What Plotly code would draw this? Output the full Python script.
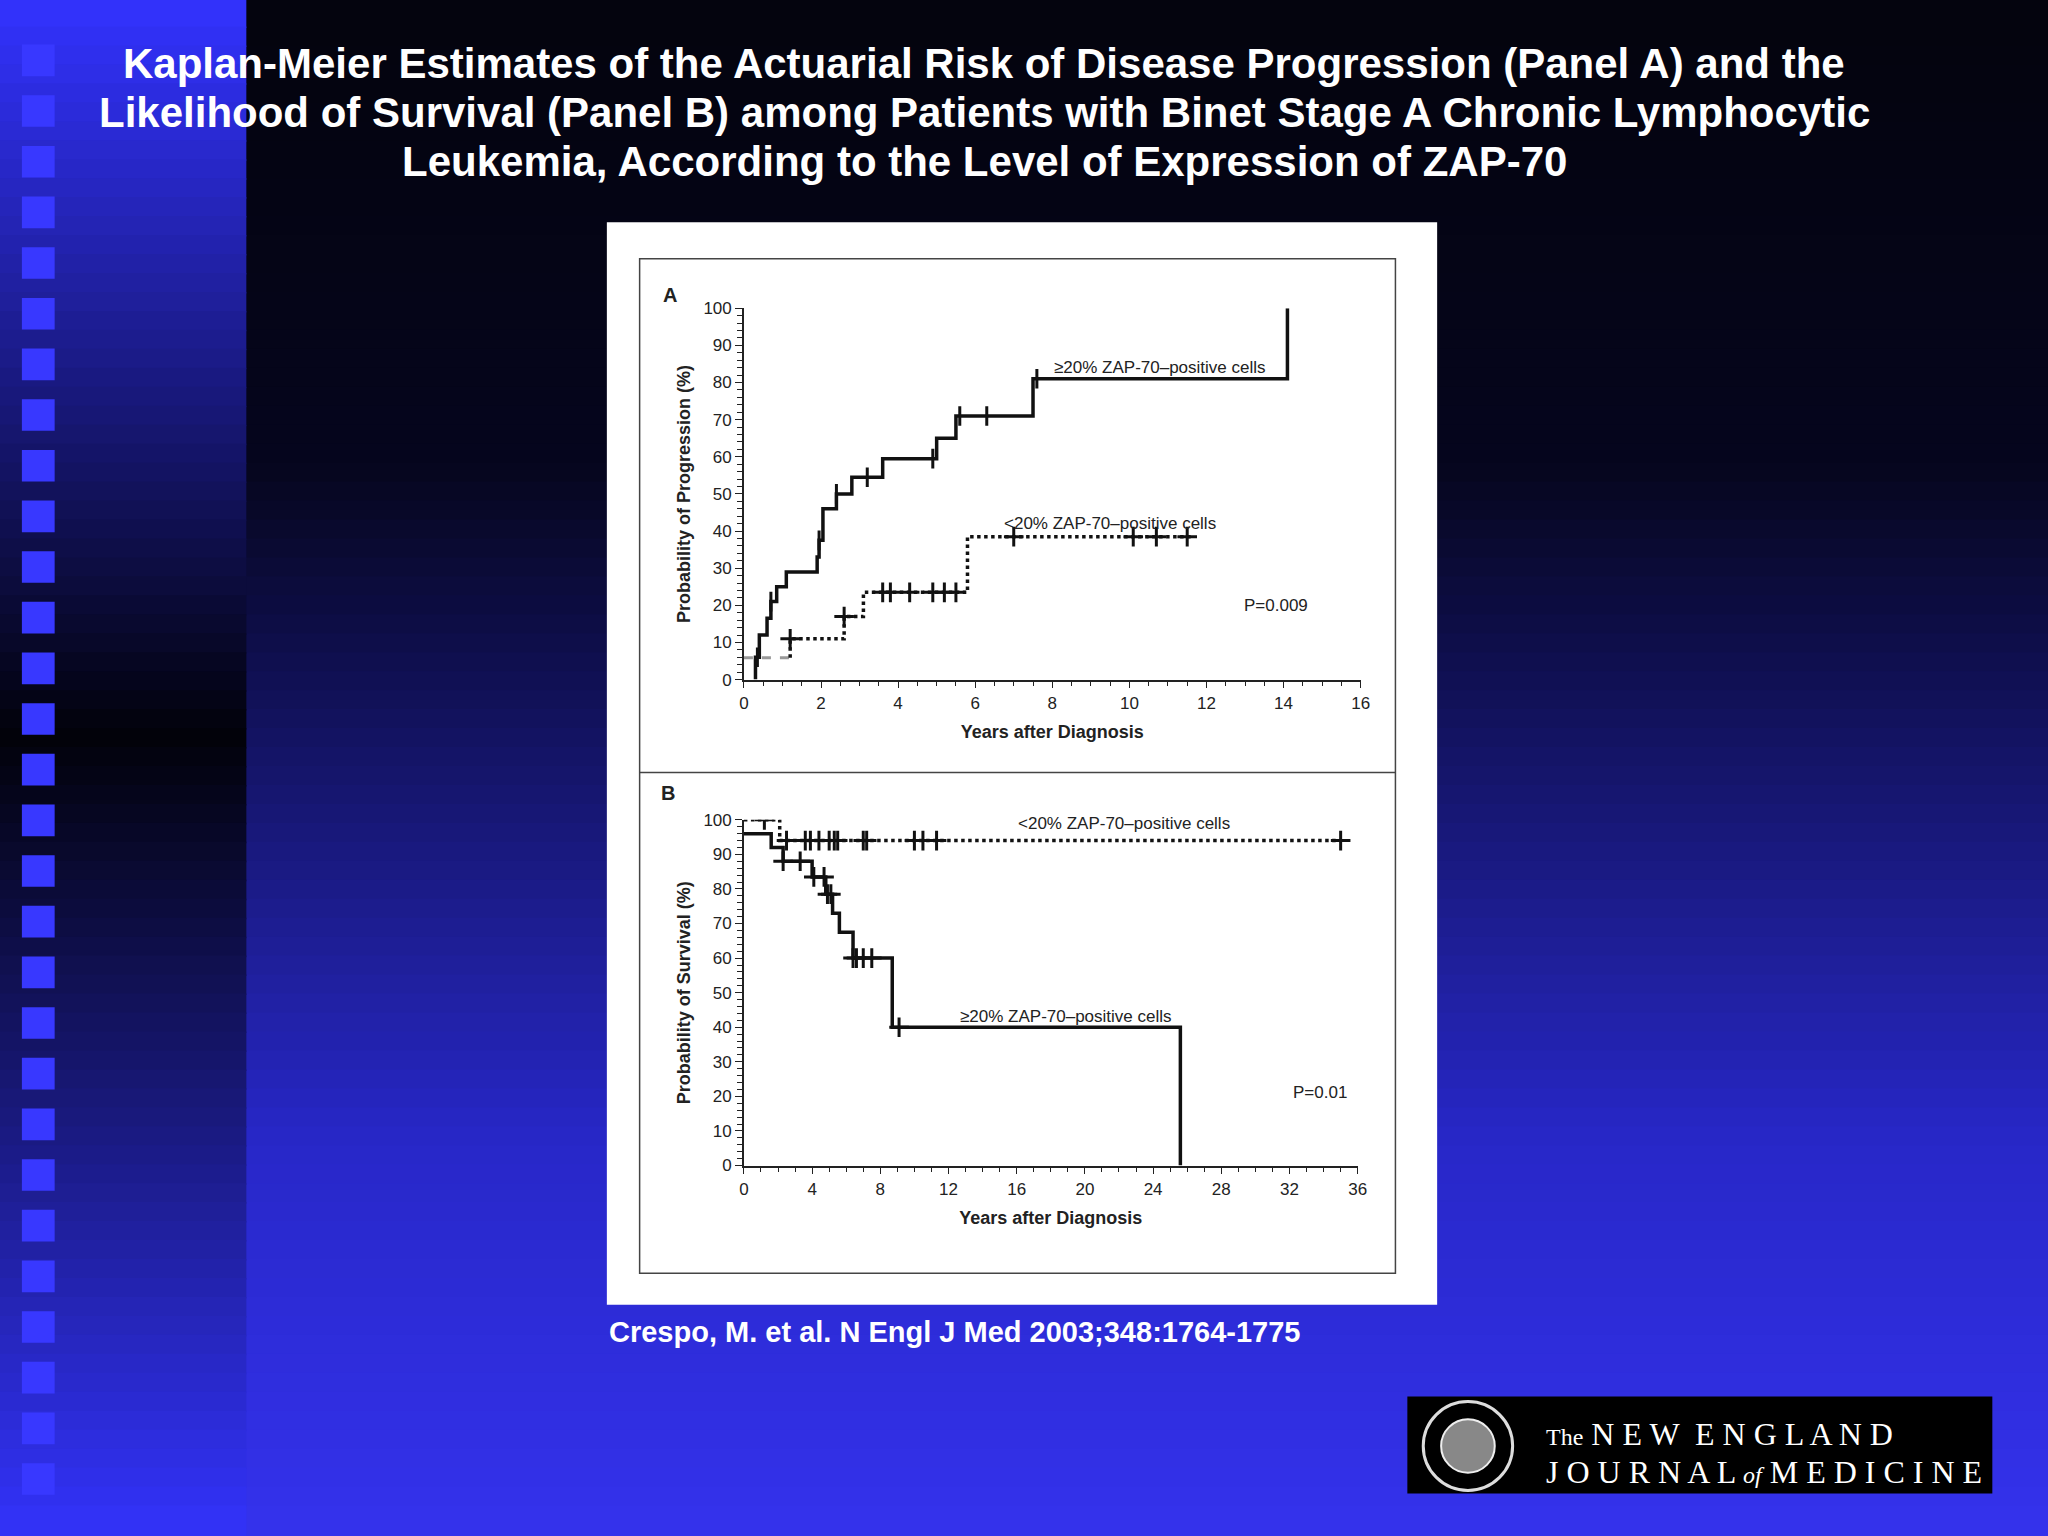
import plotly.graph_objects as go

W, H = 2048, 1536
# ---- data ----
a_hi_x = [0.3, 0.3, 0.4, 0.6, 0.7, 0.85, 1.1, 1.9, 1.95, 2.05, 2.4, 2.8, 3.6, 5.0, 5.5, 7.5, 14.1, 14.1]
a_hi_y = [0, 6, 12, 16.5, 21, 25, 29, 33, 37.5, 46, 50, 54.5, 59.5, 65, 71, 81, 81, 100]
a_hi_cx = [0.35, 0.7, 1.95, 2.4, 3.2, 4.9, 5.6, 6.3, 7.6]
a_lo_x = [1.2, 2.6, 3.1, 5.8, 11.6]
a_lo_y = [11, 17, 23.5, 38.5, 38.5]
a_lo_start = [5.9, 5.9]
a_lo_cx = [1.2, 2.6, 3.6, 3.8, 4.3, 4.9, 5.2, 5.5, 7.0, 10.1, 10.7, 11.5]
b_hi_x = [0, 1.6, 2.3, 4.0, 4.8, 5.2, 5.6, 6.4, 8.7, 25.6, 25.6]
b_hi_y = [96, 92, 88, 83.5, 78.5, 73, 67.5, 60, 40, 40, 0]
b_hi_cx = [2.3, 3.3, 4.1, 4.7, 4.9, 5.1, 6.4, 6.6, 7.0, 7.5, 9.1]
b_lo_x = [0, 2.1, 35.0]
b_lo_y = [100, 94, 94]
b_lo_cx = [1.2, 2.5, 3.6, 3.9, 4.4, 5.0, 5.3, 5.5, 7.0, 7.2, 10.0, 10.5, 11.3, 35.0]
a_xticks = list(range(0, 17, 2))
b_xticks = list(range(0, 37, 4))
yticks = list(range(0, 101, 10))
title_lines = [
    "Kaplan-Meier Estimates of the Actuarial Risk of Disease Progression (Panel A) and the",
    "Likelihood of Survival (Panel B) among Patients with Binet Stage A Chronic Lymphocytic",
    "Leukemia, According to the Level of Expression of ZAP-70",
]


def step_y(xs, ys, x):
    v = None
    for xi, yi in zip(xs, ys):
        if xi <= x:
            v = yi
    return v


def px(x):
    return x / W


def py(y):
    return 1 - y / H


fig = go.Figure()
shapes = []


def lerp(c1, c2, t):
    return "rgb(%d,%d,%d)" % tuple(int(c1[i] + (c2[i] - c1[i]) * t) for i in range(3))


N = 80
for i in range(N):
    t = i / (N - 1)
    if t < 0.3:
        c = lerp((4, 4, 14), (6, 6, 30), t / 0.3)
    elif t < 0.75:
        c = lerp((6, 6, 30), (40, 40, 200), (t - 0.3) / 0.45)
    else:
        c = lerp((40, 40, 200), (52, 50, 235), (t - 0.75) / 0.25)
    shapes.append(dict(type="rect", xref="paper", yref="paper", x0=-0.01, x1=1.01,
                       y0=1 - (i + 1) / N - 0.01 * (i == N - 1), y1=1 - i / N + 0.001 + 0.01 * (i == 0),
                       fillcolor=c, line_width=0, layer="below"))
for i in range(N):
    t = i / (N - 1)
    if t < 0.48:
        c = lerp((50, 50, 250), (2, 2, 10), t / 0.48)
    else:
        c = lerp((2, 2, 10), (50, 50, 245), (t - 0.48) / 0.52)
    shapes.append(dict(type="rect", xref="paper", yref="paper", x0=-0.01, x1=px(243),
                       y0=1 - (i + 1) / N - 0.01 * (i == N - 1), y1=1 - i / N + 0.001 + 0.01 * (i == 0),
                       fillcolor=c, line_width=0, layer="below"))
for k in range(29):
    y0 = 36 + k * 51.3
    shapes.append(dict(type="rect", xref="paper", yref="paper", x0=px(17), x1=px(50),
                       y0=py(y0 + 32), y1=py(y0), fillcolor="#3838ff", line_width=0, layer="below"))
shapes.append(dict(type="rect", xref="paper", yref="paper", x0=px(606), x1=px(1442), y0=py(1312), y1=py(216),
                   fillcolor="white", line_width=0, layer="below"))
shapes.append(dict(type="rect", xref="paper", yref="paper", x0=px(639), x1=px(1400), y0=py(1280), y1=py(253),
                   fillcolor="rgba(0,0,0,0)", line=dict(color="#444", width=1.5), layer="below"))
shapes.append(dict(type="line", xref="paper", yref="paper", x0=px(639), x1=px(1400), y0=py(773), y1=py(773),
                   line=dict(color="#444", width=1.5), layer="below"))
shapes.append(dict(type="rect", xref="paper", yref="paper", x0=px(1412), x1=px(2001), y0=py(1503), y1=py(1405),
                   fillcolor="black", line_width=0))
shapes.append(dict(type="circle", xref="paper", yref="paper", x0=px(1428), x1=px(1518), y0=py(1500), y1=py(1410),
                   fillcolor="black", line=dict(color="#ddd", width=3)))
shapes.append(dict(type="circle", xref="paper", yref="paper", x0=px(1446), x1=px(1500), y0=py(1482), y1=py(1428),
                   fillcolor="#888", line=dict(color="#eee", width=2)))

blk = "#111"
cross = dict(symbol="cross-thin-open", size=14, color=blk, line=dict(color=blk, width=3))
fig.add_trace(go.Scatter(x=[0, 1.2], y=a_lo_start, mode="lines",
                         line=dict(color="#999", dash="dash", width=3), xaxis="x", yaxis="y", showlegend=False))
fig.add_trace(go.Scatter(x=a_hi_x, y=a_hi_y, mode="lines", line=dict(color=blk, width=3.5, shape="hv"),
                         xaxis="x", yaxis="y", showlegend=False))
fig.add_trace(go.Scatter(x=[1.2] + a_lo_x, y=[5.9] + a_lo_y, mode="lines",
                         line=dict(color=blk, width=3.5, dash="dot", shape="hv"), xaxis="x", yaxis="y", showlegend=False))
fig.add_trace(go.Scatter(x=a_hi_cx, y=[step_y(a_hi_x, a_hi_y, x) for x in a_hi_cx], mode="markers",
                         marker=dict(symbol="line-ns-open", size=14, color=blk, line=dict(color=blk, width=3)),
                         xaxis="x", yaxis="y", showlegend=False))
fig.add_trace(go.Scatter(x=a_lo_cx, y=[step_y([1.2] + a_lo_x, [5.9] + a_lo_y, x) for x in a_lo_cx], mode="markers",
                         marker=cross, xaxis="x", yaxis="y", showlegend=False))
fig.add_trace(go.Scatter(x=b_lo_x, y=b_lo_y, mode="lines", line=dict(color=blk, width=3.5, dash="dot", shape="hv"),
                         xaxis="x2", yaxis="y2", showlegend=False))
fig.add_trace(go.Scatter(x=b_hi_x, y=b_hi_y, mode="lines", line=dict(color=blk, width=3.5, shape="hv"),
                         xaxis="x2", yaxis="y2", showlegend=False))
fig.add_trace(go.Scatter(x=b_hi_cx, y=[step_y(b_hi_x, b_hi_y, x) for x in b_hi_cx], mode="markers",
                         marker=cross, xaxis="x2", yaxis="y2", showlegend=False))
fig.add_trace(go.Scatter(x=b_lo_cx, y=[step_y(b_lo_x, b_lo_y, x) for x in b_lo_cx], mode="markers",
                         marker=cross, xaxis="x2", yaxis="y2", showlegend=False))

tf = dict(family="Liberation Sans", size=17, color="#222")
tt = dict(family="Liberation Sans", size=18, color="#222")
ax = dict(showgrid=False, zeroline=False, showline=True, linecolor="#222", linewidth=1.5, ticks="outside",
          ticklen=7, tickcolor="#222", tickfont=tf, title_font=tt)
fig.update_layout(
    width=W, height=H, margin=dict(l=0, r=0, t=0, b=0), paper_bgcolor="#050512", plot_bgcolor="rgba(0,0,0,0)",
    shapes=shapes,
    xaxis=dict(ax, domain=[px(744), px(1365)], range=[0, 16], tickvals=a_xticks, anchor="y",
               minor=dict(dtick=0.5, ticks="outside", ticklen=5, tickcolor="#222"),
               title=dict(text="<b>Years after Diagnosis</b>", standoff=14)),
    yaxis=dict(ax, domain=[py(679), py(303)], range=[0, 100], tickvals=yticks, anchor="x",
               minor=dict(dtick=2, ticks="outside", ticklen=5, tickcolor="#222"),
               title=dict(text="<b>Probability of Progression (%)</b>", standoff=8)),
    xaxis2=dict(ax, domain=[px(744), px(1362)], range=[0, 36], tickvals=b_xticks, anchor="y2",
                minor=dict(dtick=1, ticks="outside", ticklen=5, tickcolor="#222"),
                title=dict(text="<b>Years after Diagnosis</b>", standoff=14)),
    yaxis2=dict(ax, domain=[py(1171), py(821)], range=[0, 100], tickvals=yticks, anchor="x2",
                minor=dict(dtick=2, ticks="outside", ticklen=5, tickcolor="#222"),
                title=dict(text="<b>Probability of Survival (%)</b>", standoff=8)),
)

af = dict(family="Liberation Sans", size=17, color="#222")
ann = [
    dict(x=10.8, y=84, xref="x", yref="y", text="≥20% ZAP-70–positive cells", font=af),
    dict(x=9.5, y=42, xref="x", yref="y", text="<20% ZAP-70–positive cells", font=af),
    dict(x=13.8, y=20, xref="x", yref="y", text="P=0.009", font=af),
    dict(x=22.3, y=99, xref="x2", yref="y2", text="<20% ZAP-70–positive cells", font=af),
    dict(x=18.9, y=43, xref="x2", yref="y2", text="≥20% ZAP-70–positive cells", font=af),
    dict(x=33.8, y=21, xref="x2", yref="y2", text="P=0.01", font=af),
    dict(x=px(661), y=py(276), xref="paper", yref="paper", text="<b>A</b>", font=dict(family="Liberation Sans", size=20, color="#222")),
    dict(x=px(658), y=py(794), xref="paper", yref="paper", text="<b>B</b>", font=dict(family="Liberation Sans", size=20, color="#222")),
    dict(x=px(606), y=py(1358), xref="paper", yref="paper", xanchor="left",
         text="<b>Crespo, M. et al. N Engl J Med 2003;348:1764-1775</b>",
         font=dict(family="Liberation Sans", size=29, color="white")),
    dict(x=px(1550), y=py(1437 + 26), xref="paper", yref="paper", xanchor="left",
         text="<span style='font-size:24px'>The</span> N E W  E N G L A N D",
         font=dict(family="Liberation Serif", size=32, color="white")),
    dict(x=px(1550), y=py(1476 + 26), xref="paper", yref="paper", xanchor="left",
         text="J O U R N A L <i><span style='font-size:24px'>of</span></i> M E D I C I N E",
         font=dict(family="Liberation Serif", size=32, color="white")),
]
for i, line in enumerate(title_lines):
    ann.append(dict(x=px(986), y=py(29 + i * 50), xref="paper", yref="paper", text="<b>" + line + "</b>",
                    font=dict(family="Liberation Sans", size=42, color="white")))
for a in ann:
    a.setdefault("showarrow", False)
fig.update_layout(annotations=ann)
fig.write_html("out.html", config={"displayModeBar": False},
               post_script="document.documentElement.style.background='#050512';"
                           "document.body.style.margin='0';document.body.style.overflow='hidden';")
